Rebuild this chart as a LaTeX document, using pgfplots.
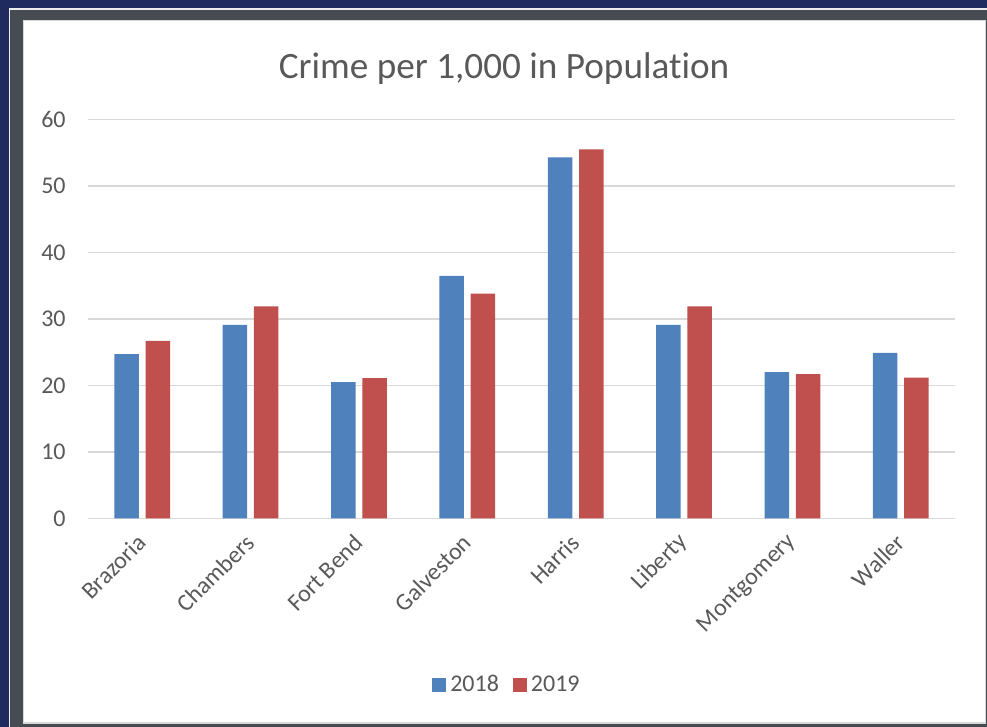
\documentclass[border=0pt]{standalone}
\usepackage{fontspec}
\setmainfont{Carlito}[Ligatures={NoCommon}]
\usepackage{pgfplots}
\pgfplotsset{compat=1.18}
\definecolor{navy}{HTML}{1F2B5E}
\definecolor{frameg}{HTML}{474C52}
\definecolor{bblue}{HTML}{4F81BD}
\definecolor{bred}{HTML}{C0504D}
\definecolor{txt}{HTML}{595959}
\definecolor{gridc}{HTML}{D9D9D9}
\pgfplotsset{sqlegend/.style={legend image code/.code={\fill[##1] (0pt,-3.5pt) rectangle (7pt,3.5pt);}}}
\begin{document}
\begin{tikzpicture}[x=0.5pt,y=0.5pt]
\useasboundingbox (0,0) rectangle (987,727);
\fill[navy] (0,0) rectangle (987,727);
\fill[white!85!gray] (8.5,0) rectangle (987,718.5);
\fill[frameg] (10.3,0) rectangle (987,717);
\fill[gridc] (23,3) rectangle (986,707);
\fill[white] (24,5) rectangle (984.5,706);
\node[font=\fontsize{18.6}{22}\selectfont, text=txt, anchor=base] at (504,648) {Crime per 1,000 in Population};
\begin{axis}[at={(44pt,104.25pt)}, anchor=south west, scale only axis,
 width=433.5pt, height=199.5pt,
 xmin=-0.5, xmax=7.5, ymin=0, ymax=60, ytick={0,10,...,60}, xtick={0,...,7},
 xticklabels={Brazoria,Chambers,Fort Bend,Galveston,Harris,Liberty,Montgomery,Waller},
 ybar=3.35pt, bar width=12.25pt,
 axis line style={draw=none}, major tick length=0pt,
 ymajorgrids, grid style={draw=gridc, line width=0.75pt},
 tick label style={font=\fontsize{12}{14}\selectfont, text=txt},
 /pgf/number format/assume math mode=true,
 yticklabel style={anchor=east, inner sep=0pt, xshift=-11pt},
 xticklabel style={anchor=east, rotate=45, inner sep=0pt},
 xticklabel shift=10pt,
 sqlegend,
 legend style={at={(0.4844,-0.417)}, anchor=center, draw=none, fill=none,
   legend columns=2, font=\fontsize{12}{14}\selectfont, text=txt,
   /tikz/every even column/.append style={column sep=5pt}},
]
\addplot[fill=bblue, draw=none, sqlegend] coordinates {(0,24.7)(1,29.1)(2,20.5)(3,36.5)(4,54.3)(5,29.1)(6,22.0)(7,24.9)};
\addplot[fill=bred, draw=none, sqlegend] coordinates {(0,26.7)(1,31.9)(2,21.1)(3,33.8)(4,55.5)(5,31.9)(6,21.7)(7,21.2)};
\legend{2018,2019}
\end{axis}
\end{tikzpicture}
\end{document}
